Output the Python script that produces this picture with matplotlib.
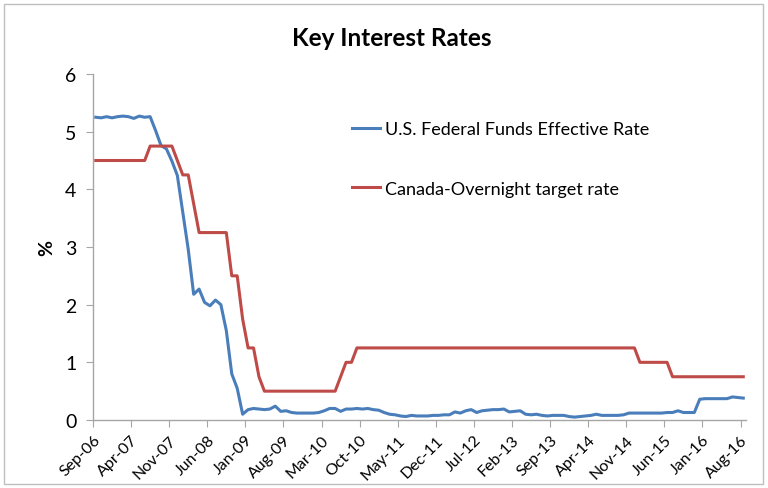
import matplotlib
matplotlib.use("Agg")
import matplotlib.pyplot as plt
from matplotlib.patches import Rectangle

plt.rcParams['font.family'] = ['Lato', 'DejaVu Sans']

# ---- data ----
tick_labels = ["Sep-06", "Apr-07", "Nov-07", "Jun-08", "Jan-09", "Aug-09", "Mar-10",
               "Oct-10", "May-11", "Dec-11", "Jul-12", "Feb-13", "Sep-13", "Apr-14",
               "Nov-14", "Jun-15", "Jan-16", "Aug-16"]
label_every = 7
n_months = 120

us_rate = [5.25, 5.24, 5.26, 5.24, 5.26, 5.27, 5.26, 5.23, 5.27, 5.25,
           5.26, 5.02, 4.76, 4.70, 4.49, 4.24, 3.60, 2.96, 2.18, 2.27,
           2.04, 1.98, 2.08, 2.00, 1.55, 0.80, 0.55, 0.10, 0.18, 0.20,
           0.19, 0.18, 0.19, 0.24, 0.15, 0.16, 0.13, 0.12, 0.12, 0.12,
           0.12, 0.13, 0.16, 0.20, 0.20, 0.15, 0.19, 0.19, 0.20, 0.19,
           0.20, 0.18, 0.17, 0.13, 0.10, 0.09, 0.07, 0.06, 0.08, 0.07,
           0.07, 0.07, 0.08, 0.08, 0.09, 0.09, 0.14, 0.12, 0.16, 0.18,
           0.13, 0.16, 0.17, 0.18, 0.18, 0.19, 0.14, 0.15, 0.16, 0.10,
           0.09, 0.10, 0.08, 0.07, 0.08, 0.08, 0.08, 0.06, 0.05, 0.06,
           0.07, 0.08, 0.10, 0.08, 0.08, 0.08, 0.08, 0.09, 0.12, 0.12,
           0.12, 0.12, 0.12, 0.12, 0.12, 0.13, 0.13, 0.16, 0.13, 0.13,
           0.13, 0.36, 0.37, 0.37, 0.37, 0.37, 0.37, 0.40, 0.39, 0.38]

canada_rate = [4.50, 4.50, 4.50, 4.50, 4.50, 4.50, 4.50, 4.50, 4.50, 4.50,
               4.75, 4.75, 4.75, 4.75, 4.75, 4.50, 4.25, 4.25, 3.75, 3.25,
               3.25, 3.25, 3.25, 3.25, 3.25, 2.50, 2.50, 1.75, 1.25, 1.25,
               0.75, 0.50, 0.50, 0.50, 0.50, 0.50, 0.50, 0.50, 0.50, 0.50,
               0.50, 0.50, 0.50, 0.50, 0.50, 0.75, 1.00, 1.00, 1.25, 1.25,
               1.25, 1.25, 1.25, 1.25, 1.25, 1.25, 1.25, 1.25, 1.25, 1.25,
               1.25, 1.25, 1.25, 1.25, 1.25, 1.25, 1.25, 1.25, 1.25, 1.25,
               1.25, 1.25, 1.25, 1.25, 1.25, 1.25, 1.25, 1.25, 1.25, 1.25,
               1.25, 1.25, 1.25, 1.25, 1.25, 1.25, 1.25, 1.25, 1.25, 1.25,
               1.25, 1.25, 1.25, 1.25, 1.25, 1.25, 1.25, 1.25, 1.25, 1.25,
               1.00, 1.00, 1.00, 1.00, 1.00, 1.00, 0.75, 0.75, 0.75, 0.75,
               0.75, 0.75, 0.75, 0.75, 0.75, 0.75, 0.75, 0.75, 0.75, 0.75]

series_names = ["U.S. Federal Funds Effective Rate", "Canada-Overnight target rate"]
y_ticks = [0, 1, 2, 3, 4, 5, 6]

# ---- figure ----
fig = plt.figure(figsize=(7.68, 4.89), dpi=100)
W, H = 768, 489
ax = fig.add_axes([93 / W, 1 - 421 / H, (746 - 93) / W, (421 - 75) / H])

x = list(range(n_months))
ax.plot(x, us_rate, color="#4A7EBB", lw=2.2, label=series_names[0], solid_joinstyle="round")
ax.plot(x, canada_rate, color="#BE4B48", lw=2.2, label=series_names[1], solid_joinstyle="round")

ax.set_xlim(-0.5, n_months - 0.5)
ax.set_ylim(0, 6)

axis_col = "#A6A6A6"
for s in ["top", "right"]:
    ax.spines[s].set_visible(False)
for s in ["left", "bottom"]:
    ax.spines[s].set_color(axis_col)
    ax.spines[s].set_linewidth(1.0)

ax.set_yticks(y_ticks)
ax.set_yticklabels([str(v) for v in y_ticks], fontsize=14, color="#000000")
ax.tick_params(axis="y", direction="out", length=5, color=axis_col, pad=7)

major_pos = list(range(0, n_months, label_every))
ax.set_xticks([p - 0.5 for p in major_pos])
ax.set_xticklabels(tick_labels, rotation=45, ha="right", va="top",
                   rotation_mode="anchor", fontsize=11.5, color="#000000")
ax.tick_params(axis="x", which="major", direction="out", length=5,
               color=axis_col, pad=4)

ax.set_ylabel("%", fontsize=14, fontweight="bold", labelpad=7)

fig.text(392 / W, 1 - 38 / H, "Key Interest Rates", ha="center", va="center",
         fontsize=17.5, fontweight="bold")

leg = ax.legend(loc="center left", bbox_to_anchor=(0.397, 0.7545), frameon=False,
                fontsize=13, labelspacing=2.4, handlelength=1.55,
                handletextpad=0.28, borderpad=0, borderaxespad=0)

fig.patches.append(Rectangle((4 / W, 4 / H), (W - 9) / W, (H - 9) / H,
                             transform=fig.transFigure, fill=False,
                             edgecolor="#BFBFBF", lw=1.0))

fig.savefig("out.png", dpi=100)
